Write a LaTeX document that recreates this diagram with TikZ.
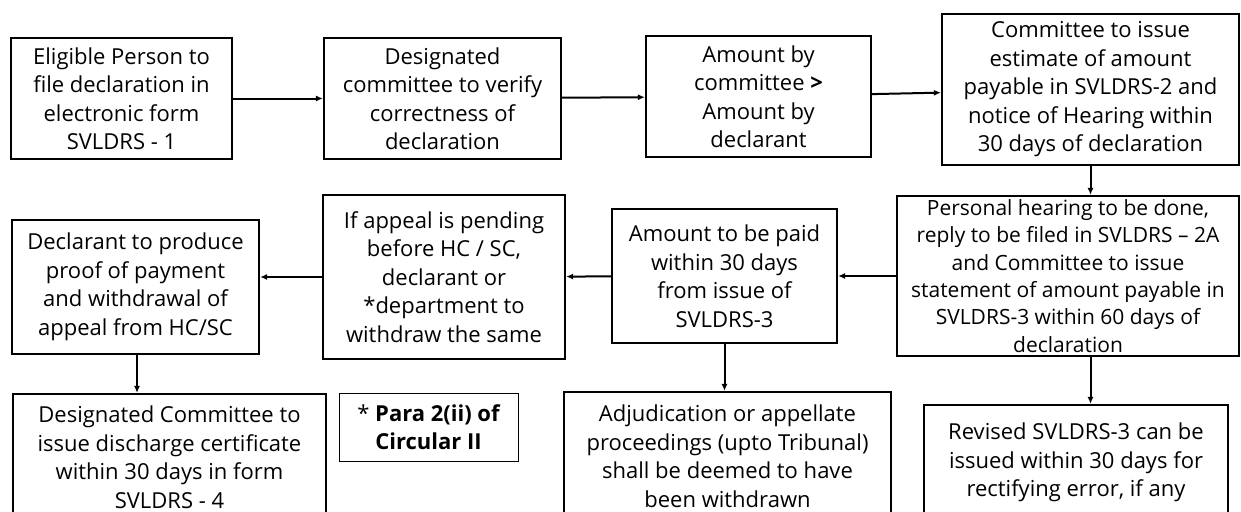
\documentclass[tikz,border=0pt]{standalone}
\usepackage{fontspec}
\setmainfont{Open Sans}
\usetikzlibrary{positioning,arrows.meta}

\begin{document}
\begin{tikzpicture}[x=1pt, y=-1pt, >={Latex[length=7pt,width=6pt]},
    box/.style={draw, line width=2.2pt, align=center, inner sep=0pt,
      font=\fontsize{22}{28.5}\selectfont},
    note/.style={draw, line width=0.9pt, align=center, inner sep=0pt,
      font=\fontsize{22}{28.5}\selectfont\bfseries},
    flow/.style={->, line width=2pt}]
      \useasboundingbox (0,0) rectangle (1241,511);
      % top row
      \node (R0) [box, minimum width=221pt, minimum height=121pt] at (121.5,98.5) {Eligible Person to\\file declaration in\\electronic form\\SVLDRS - 1};
      \node (R1) [box, minimum width=237pt, minimum height=121pt] at (442.5,98.5) {Designated\\committee to verify\\correctness of\\declaration};
      \node (R2) [box, minimum width=225pt, minimum height=121pt] at (758.5,96.5) {Amount by\\committee \textbf{>}\\Amount by\\declarant};
      \node (R3) [box, minimum width=297pt, minimum height=151pt] at (1090.5,89.5) {Committee to issue\\estimate of amount\\payable in SVLDRS-2 and\\notice of Hearing within\\30 days of declaration};
      % middle row
      \node (R4) [box, minimum width=342pt, minimum height=160pt, font=\fontsize{21}{27.4}\selectfont] at (1068,276) {Personal hearing to be done,\\reply to be filed in SVLDRS -- 2A\\and Committee to issue\\statement of amount payable in\\SVLDRS-3 within 60 days of\\declaration};
      \node (R5) [box, minimum width=225pt, minimum height=134pt] at (724.5,276) {Amount to be paid\\within 30 days\\from issue of\\SVLDRS-3};
      \node (R6) [box, minimum width=242pt, minimum height=164pt] at (444,277) {If appeal is pending\\before HC / SC,\\declarant or\\*department to\\withdraw the same};
      \node (R7) [box, minimum width=247pt, minimum height=134pt] at (135.5,287) {Declarant to produce\\proof of payment\\and withdrawal of\\appeal from HC/SC};
      % bottom row
      \node (R8) [box, minimum width=313pt, minimum height=126pt] at (169.5,457) {Designated Committee to\\issue discharge certificate\\within 30 days in form\\SVLDRS - 4};
      \node (N0) [note, minimum width=179pt, minimum height=68pt] at (428.5,427) {{\mdseries*} Para 2(ii) of\\Circular II};
      \node (R9) [box, minimum width=327pt, minimum height=128pt] at (727.5,456) {Adjudication or appellate\\proceedings (upto Tribunal)\\shall be deemed to have\\been withdrawn};
      \node (R10) [box, minimum width=304pt, minimum height=115pt] at (1076,462.5) {Revised SVLDRS-3 can be\\issued within 30 days for\\rectifying error, if any};
      % connectors
      \draw[flow] (R0) -- (R1);
      \draw[flow] (R1) -- (R2);
      \draw[flow] (R2) -- (R3);
      \draw[flow] (R3) -- (R3 |- R4.north);
      \draw[flow] (R4) -- (R5);
      \draw[flow] (R5) -- (R6);
      \draw[flow] (R6) -- (R6 -| R7.east);
      \draw[flow] (R7.south -| 137,0) -- (R8.north -| 137,0);
      \draw[flow] (R5) -- (R5 |- R9.north);
      \draw[flow] (R4.south -| R3.south) -- (R10.north -| R3.south);
    \end{tikzpicture}
\end{document}
